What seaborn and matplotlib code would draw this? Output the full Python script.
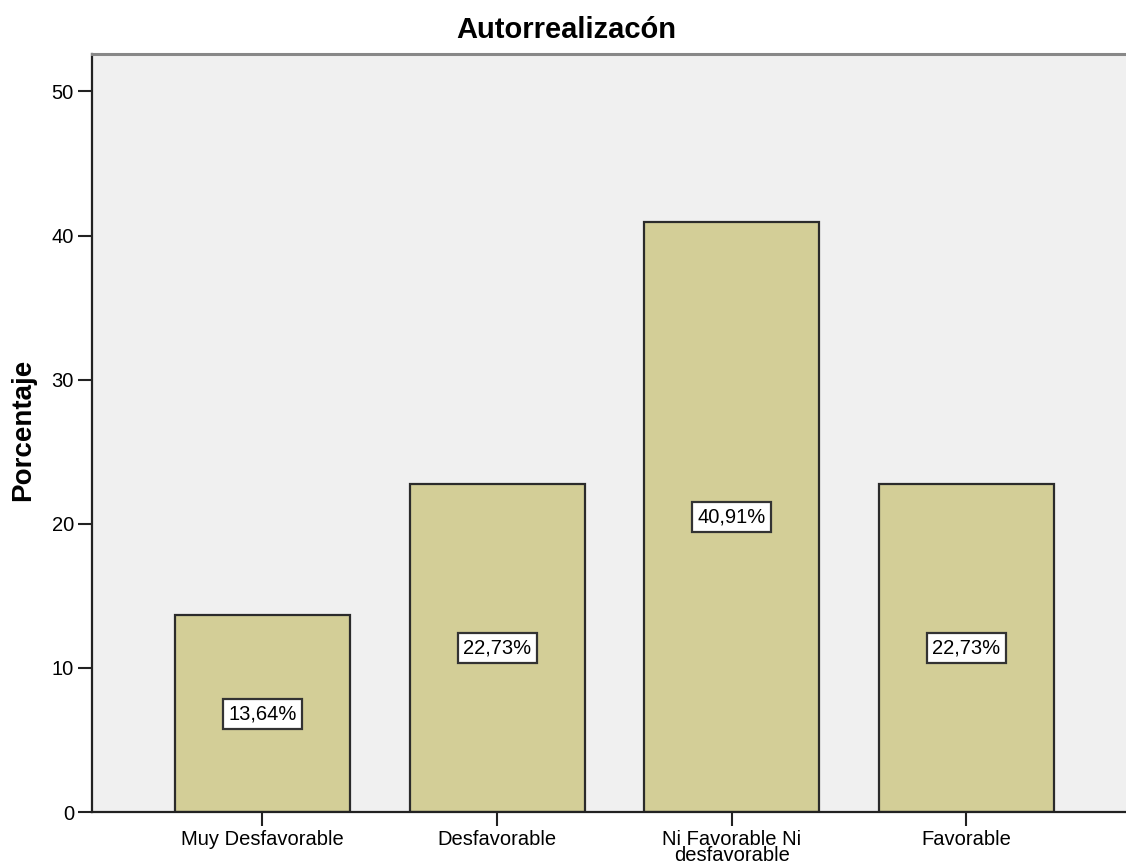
import matplotlib
matplotlib.use("Agg")
import matplotlib.pyplot as plt
import seaborn as sns
import pandas as pd

categories = ["Muy Desfavorable", "Desfavorable", "Ni Favorable Ni\ndesfavorable", "Favorable"]
values = [13.64, 22.73, 40.91, 22.73]
yticks = [0, 10, 20, 30, 40, 50]
title = "Autorrealizacón"
ylabel = "Porcentaje"

sns.set_theme(style="white")
plt.rcParams['font.family'] = ['Liberation Sans', 'DejaVu Sans']
plt.rcParams['text.color'] = 'black'
plt.rcParams['xtick.labelcolor'] = 'black'
plt.rcParams['ytick.labelcolor'] = 'black'

W, H = 1126, 867
fig = plt.figure(figsize=(W / 100, H / 100), dpi=100)
ax = fig.add_axes([92 / W, (H - 812) / H, 1 - 92 / W, (812 - 54) / H])
ax.set_facecolor("#F0F0F0")

df = pd.DataFrame({"cat": categories, "val": values})
sns.barplot(data=df, x="cat", y="val", ax=ax, color="#D3CE97", saturation=1,
            edgecolor="#2b2b2b", linewidth=1.6, width=0.746)

for i, v in enumerate(values):
    ax.text(i, v / 2, f"{v:.2f}".replace(".", ",") + "%", ha="center", va="center",
            fontsize=14.5, color="black",
            bbox=dict(boxstyle="square,pad=0.27", facecolor="white", edgecolor="#333333", linewidth=1.6))

ax.set_xlim(-0.7266, 3.68)
ax.set_ylim(0, 52.6)
ax.set_yticks(yticks)
ax.set_yticklabels([str(t) for t in yticks], fontsize=14.5, color="black")
ax.set_xticks(range(len(categories)))
ax.set_xticklabels(categories, fontsize=14.5, linespacing=0.8, color="black")
ax.set_xlabel("")
ax.set_ylabel("")
ax.tick_params(axis="both", direction="out", length=10, width=1.5, color="#222222", pad=3,
               bottom=True, left=True)

for s in ["left", "bottom"]:
    ax.spines[s].set_color("#222222")
    ax.spines[s].set_linewidth(1.6)
ax.spines["top"].set_color("#888888")
ax.spines["top"].set_linewidth(2.2)
ax.spines["right"].set_visible(False)

fig.text(566.5 / W, 1 - 30 / H, title, ha="center", va="center", fontsize=21, fontweight="bold", color="black")
fig.text(23 / W, 1 - 430 / H, ylabel, ha="center", va="center", rotation=90, fontsize=20, fontweight="bold", color="black")

fig.savefig("out.png", dpi=100, facecolor="white")
